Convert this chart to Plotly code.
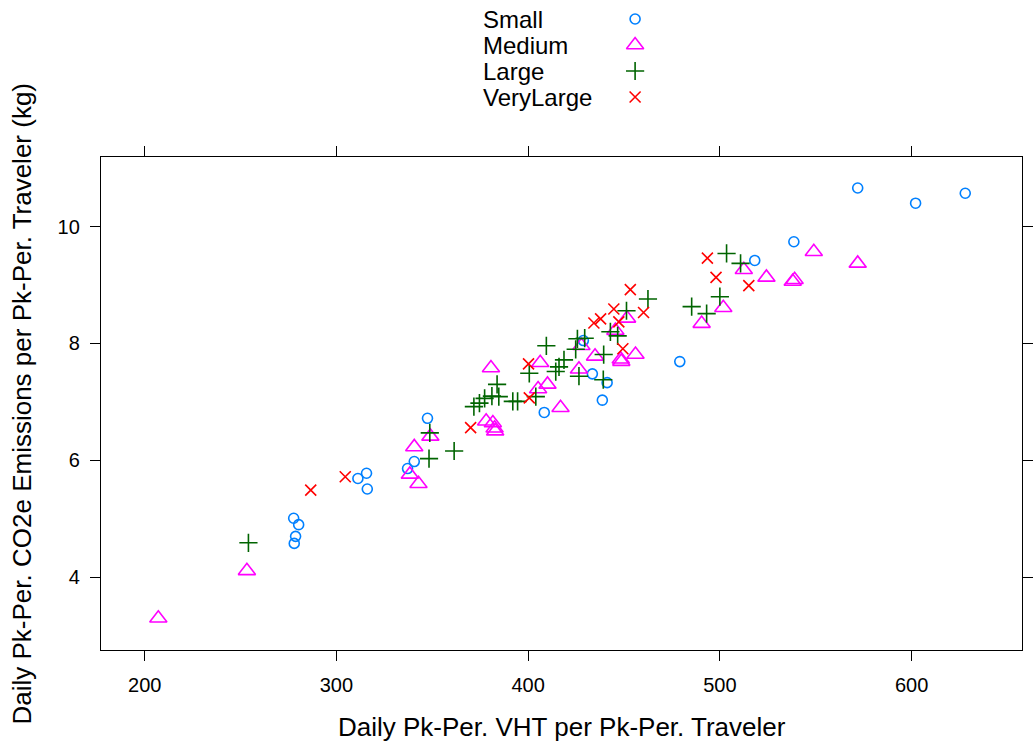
import plotly.graph_objects as go

# ---- data ----
small_x = [277.7, 280.3, 278.7, 278.0, 311.2, 315.7, 316.1, 337.1, 340.6, 347.5,
           408.4, 428.8, 433.5, 441.2, 438.7, 479.1, 518.2, 538.6, 571.9, 602.1, 628.0]
small_y = [5.01, 4.90, 4.70, 4.58, 5.69, 5.78, 5.51, 5.86, 5.98, 6.72,
           6.82, 8.05, 7.48, 7.33, 7.03, 7.69, 9.42, 9.74, 10.66, 10.40, 10.57]

medium_x = [207.1, 253.3, 338.3, 340.6, 342.8, 349.0, 378.1, 381.6, 382.5, 382.8,
            380.6, 405.2, 410.1, 406.3, 416.9, 426.5, 427.8, 434.9, 445.5, 451.6,
            448.3, 448.6, 456.0, 490.5, 501.8, 512.5, 524.3, 538.0, 539.0, 549.0, 571.9]
medium_y = [3.30, 4.11, 5.76, 6.23, 5.60, 6.41, 6.67, 6.64, 6.55, 6.50,
            7.58, 7.22, 7.30, 7.67, 6.90, 7.56, 7.96, 7.78, 8.22, 8.43,
            7.73, 7.69, 7.81, 8.34, 8.61, 9.26, 9.13, 9.06, 9.09, 9.57, 9.37]

large_x = [254.1, 348.7, 348.3, 361.4, 371.7, 374.6, 377.3, 381.1, 384.7, 383.8,
           392.0, 394.5, 404.0, 400.6, 409.5, 414.4, 416.1, 418.7, 425.7, 429.5,
           424.8, 426.5, 439.4, 439.2, 442.9, 446.7, 451.3, 462.5, 485.3, 493.1,
           500.0, 503.5, 510.8]
large_y = [4.59, 6.47, 6.03, 6.16, 6.92, 6.98, 7.06, 7.10, 7.09, 7.30,
           7.01, 7.01, 7.09, 7.49, 7.96, 7.52, 7.60, 7.72, 8.08, 8.09,
           7.90, 7.44, 7.81, 7.38, 8.20, 8.13, 8.56, 8.76, 8.63, 8.51,
           8.80, 9.54, 9.37]

vlarge_x = [286.6, 304.6, 370.0, 400.6, 400.2, 434.3, 437.8, 444.7, 447.3, 453.3,
            460.2, 449.4, 493.5, 498.0, 515.1]
vlarge_y = [5.49, 5.72, 6.56, 7.07, 7.65, 8.35, 8.42, 8.59, 8.37, 8.92,
            8.53, 7.91, 9.46, 9.13, 8.99]

group_names = ["Small", "Medium", "Large", "VeryLarge"]
x_ticks = [200, 300, 400, 500, 600]
y_ticks = [4, 6, 8, 10]

x_title = "Daily Pk-Per. VHT per Pk-Per. Traveler"
y_title = "Daily Pk-Per. CO2e Emissions per Pk-Per. Traveler (kg)"

# ---- styles ----
FONT = "Liberation Sans, Arial, sans-serif"
colors = ["#0080ff", "#ff00ff", "#006400", "#ff0000"]
symbols = ["circle-open", "triangle-up-open", "cross-thin-open", "x-thin-open"]
sizes = [10, 15, 13, 11]

W, H = 1033, 745
ML, MR, MB = 101, 6, 95
plot_h = H - MB
frame_top = 157
main_top = (plot_h - frame_top) / plot_h

fig = go.Figure()
series = [(small_x, small_y), (medium_x, medium_y), (large_x, large_y), (vlarge_x, vlarge_y)]
for i, (xs, ys) in enumerate(series):
    fig.add_trace(go.Scatter(
        x=xs, y=ys, mode="markers", name=group_names[i], showlegend=False,
        marker=dict(symbol=symbols[i], color=colors[i], size=sizes[i],
                    line=dict(color=colors[i], width=1.6)),
        xaxis="x", yaxis="y"))

# custom key (text left, symbol right) on an auxiliary pixel-scaled axis
key_rows = [19, 45, 71, 97]
key_sym_x = 638 - ML
key_txt_x = 483 - ML
for i, name in enumerate(group_names):
    fig.add_trace(go.Scatter(
        x=[key_sym_x], y=[key_rows[i]], mode="markers", showlegend=False,
        hoverinfo="skip",
        marker=dict(symbol=symbols[i], color=colors[i], size=sizes[i],
                    line=dict(color=colors[i], width=1.6)),
        xaxis="x2", yaxis="y2"))
    fig.add_annotation(x=key_txt_x, y=key_rows[i], xref="x2", yref="y2",
                       text=name, showarrow=False, xanchor="left", yanchor="middle",
                       font=dict(family=FONT, size=24, color="black"))

axis_common = dict(showline=True, linecolor="black", linewidth=1.3, mirror="ticks",
                   ticks="outside", ticklen=10, tickwidth=1.3, tickcolor="black",
                   showgrid=False, zeroline=False,
                   tickfont=dict(family=FONT, size=20, color="black"))

fig.update_layout(
    width=W, height=H,
    margin=dict(l=ML, r=MR, t=0, b=MB),
    paper_bgcolor="white", plot_bgcolor="white",
    xaxis=dict(range=[177.2, 657.6], tickvals=x_ticks, ticklabelstandoff=7,
               domain=[0, 1], anchor="y", **axis_common),
    yaxis=dict(range=[2.756, 11.19], tickvals=y_ticks, ticklabelstandoff=6,
               domain=[0, main_top], anchor="x", **axis_common),
    xaxis2=dict(range=[0, W - ML - MR], domain=[0, 1], anchor="y2", visible=False,
                fixedrange=True),
    yaxis2=dict(range=[frame_top, 0], domain=[main_top, 1], anchor="x2", visible=False,
                fixedrange=True),
)

fig.add_annotation(x=0.5, y=0, xref="paper", yref="paper", yshift=-77,
                   text=x_title, showarrow=False, xanchor="center", yanchor="middle",
                   font=dict(family=FONT, size=26, color="black"))
fig.add_annotation(x=0, y=main_top / 2, xref="paper", yref="paper", xshift=-80,
                   text=y_title, showarrow=False, textangle=-90,
                   xanchor="center", yanchor="middle",
                   font=dict(family=FONT, size=26, color="black"))

fig.write_html("out.html")
